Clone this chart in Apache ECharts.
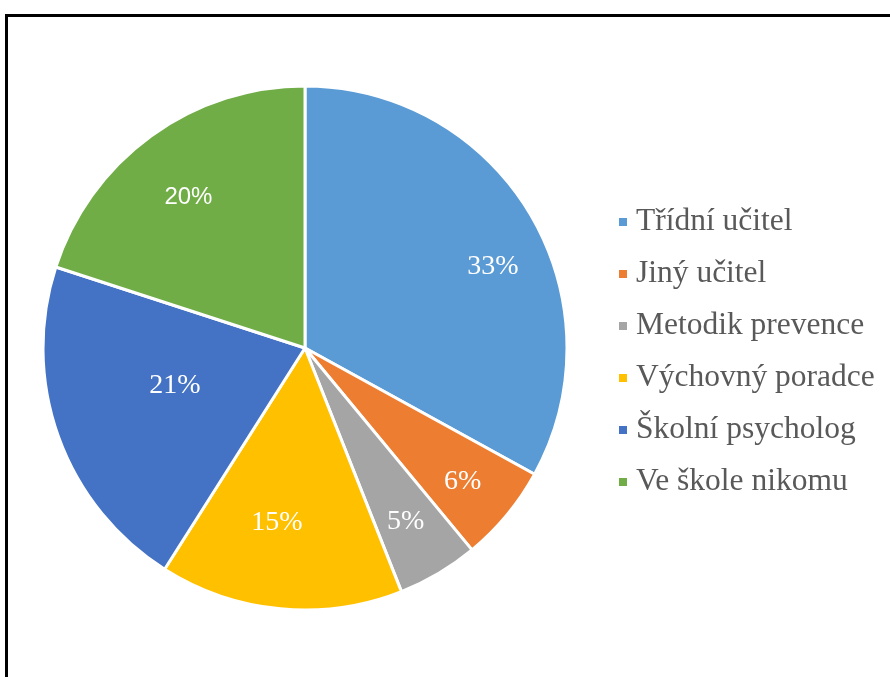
<!DOCTYPE html>
<html>
<head>
<meta charset="utf-8">
<script src="https://cdn.jsdelivr.net/npm/echarts@6/dist/echarts.min.js"></script>
<style>
  html, body { margin: 0; padding: 0; background: #fff; overflow: hidden; }
  #frame { position: absolute; left: 5px; top: 14px; width: 900px; height: 700px; border: 3px solid #000; box-sizing: border-box; }
  #chart { position: absolute; left: 0; top: 0; width: 890px; height: 677px; }
</style>
</head>
<body>
<div id="frame"></div>
<div id="chart"></div>
<script>
var categories = ['Třídní učitel', 'Jiný učitel', 'Metodik prevence', 'Výchovný poradce', 'Školní psycholog', 'Ve škole nikomu'];
var values = [33, 6, 5, 15, 21, 20];
var colors = ['#5B9BD5', '#ED7D31', '#A5A5A5', '#FFC000', '#4472C4', '#70AD47'];

// label placement inside each slice: fraction of radius, and angle nudge (deg)
var labelDist = [0.77, 0.778, 0.754, 0.663, 0.505, 0.715];
var labelShift = [7.4, 0.7, 0.5, 3.8, 3.8, -1.8];
var R = 262;

var total = values.reduce(function (a, b) { return a + b; }, 0);
var midAngles = [];
var acc = 0;
values.forEach(function (v) {
  midAngles.push((acc + v / 2) / total * Math.PI * 2);
  acc += v;
});

var data = categories.map(function (name, i) {
  var item = { name: name, value: values[i], itemStyle: { color: colors[i] } };
  if (i === 5) {
    item.label = { fontFamily: '"Liberation Sans", Arial, sans-serif', fontSize: 24 };
  }
  return item;
});

var chart = echarts.init(document.getElementById('chart'));
chart.setOption({
  animation: false,
  legend: {
    orient: 'vertical',
    left: 619,
    top: 206,
    padding: 0,
    itemWidth: 8,
    itemHeight: 8,
    itemGap: 20,
    icon: 'rect',
    selectedMode: false,
    itemStyle: { borderWidth: 0 },
    textStyle: {
      fontFamily: '"Liberation Serif", "Times New Roman", serif',
      fontSize: 31.5,
      lineHeight: 32,
      color: '#595959',
      padding: [0, 0, 0, 4]
    },
    data: categories
  },
  series: [{
    type: 'pie',
    center: [305, 348],
    radius: [0, R],
    startAngle: 90,
    clockwise: true,
    avoidLabelOverlap: false,
    itemStyle: { borderColor: '#fff', borderWidth: 3 },
    emphasis: { disabled: true },
    label: {
      show: true,
      position: 'inside',
      formatter: '{d}%',
      color: '#fff',
      fontFamily: '"Liberation Serif", "Times New Roman", serif',
      fontSize: 28
    },
    labelLine: { show: false },
    labelLayout: function (p) {
      var i = p.dataIndex;
      var a = midAngles[i];
      var b = a + labelShift[i] * Math.PI / 180;
      var r = labelDist[i] * R;
      return {
        dx: r * Math.sin(b) - 0.5 * R * Math.sin(a),
        dy: -r * Math.cos(b) + 0.5 * R * Math.cos(a)
      };
    },
    data: data
  }]
});
</script>
</body>
</html>
